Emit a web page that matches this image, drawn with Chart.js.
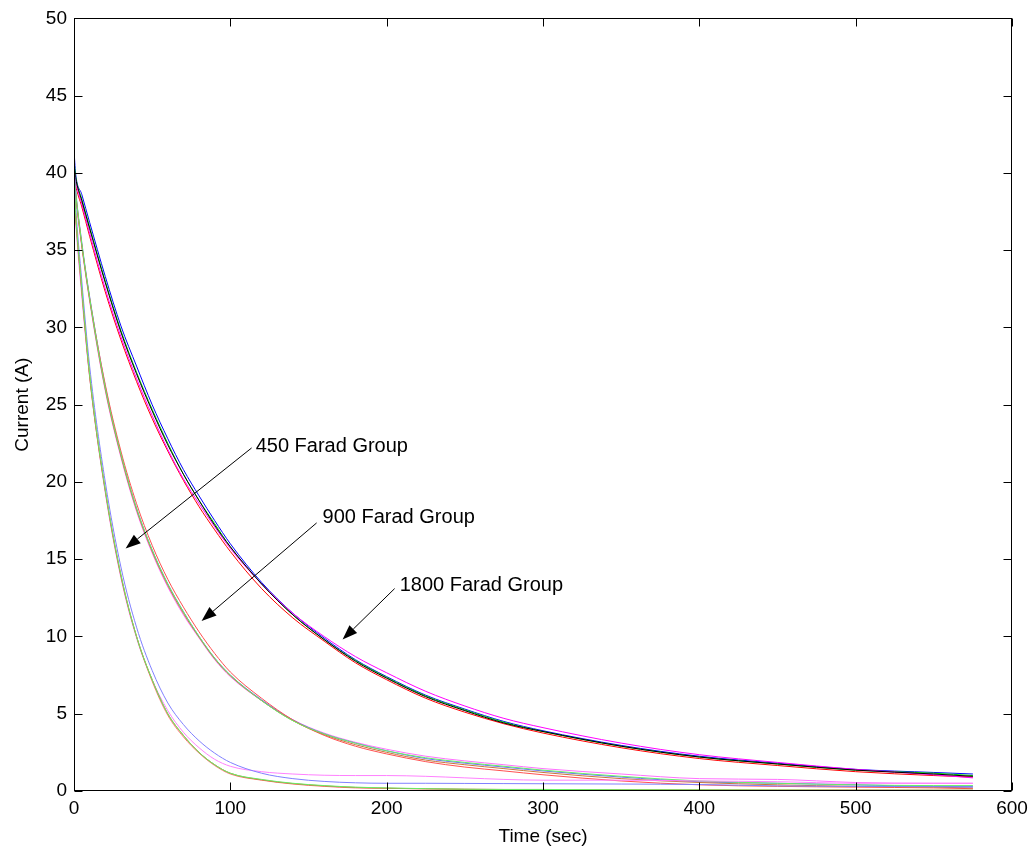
<!DOCTYPE html>
<html>
<head>
<meta charset="utf-8">
<script src="https://cdn.jsdelivr.net/npm/chart.js@4/dist/chart.umd.min.js"></script>
<style>
html,body{margin:0;padding:0;background:#fff;}
#wrap{width:1036px;height:854px;position:relative;}
</style>
</head>
<body>
<div id="wrap"><canvas id="c" width="1036" height="854"></canvas></div>
<script>
// ---- data ----
const timeSec = [0,1,5,10,20,30,40,50,60,70,80,90,100,120,140,160,180,200,225,250,275,300,350,400,450,500,550,575];
const xTickValues = [0,100,200,300,400,500,600];
const yTickValues = [0,5,10,15,20,25,30,35,40,45,50];

// 1800 Farad group
const f1800Blue    = [41.5,40.0,38.6,36.8,33.3,30.1,27.5,25.0,22.8,20.8,19.1,17.5,16.0,13.5,11.5,9.9,8.5,7.4,6.2,5.3,4.5,3.9,2.95,2.25,1.8,1.4,1.2,1.1];
const f1800Green   = [40.8,39.8,38.3,36.5,33.0,29.8,27.1,24.7,22.5,20.5,18.8,17.3,15.8,13.4,11.4,9.8,8.45,7.35,6.15,5.25,4.45,3.85,2.9,2.2,1.75,1.35,1.15,1.0];
const f1800Red     = [39.8,39.2,37.8,35.9,32.3,29.2,26.5,24.1,22.0,20.1,18.4,16.9,15.5,13.1,11.2,9.7,8.3,7.2,6.0,5.1,4.35,3.75,2.8,2.1,1.65,1.25,1.0,0.9];
const f1800Magenta = [40.2,39.5,38.0,36.1,32.5,29.4,26.7,24.3,22.1,20.2,18.6,17.1,15.7,13.4,11.5,10.0,8.7,7.65,6.45,5.5,4.7,4.1,3.1,2.35,1.85,1.4,1.05,0.85];
const f1800Black   = [40.5,39.7,38.2,36.4,32.9,29.7,27.0,24.6,22.4,20.5,18.8,17.2,15.8,13.4,11.4,9.8,8.4,7.3,6.1,5.2,4.4,3.85,2.9,2.2,1.75,1.35,1.1,0.95];

// 900 Farad group
const f900Blue    = [40.5,39.0,35.5,32.0,26.2,21.8,18.3,15.6,13.4,11.6,10.0,8.6,7.5,5.9,4.6,3.7,3.1,2.6,2.1,1.8,1.55,1.3,0.9,0.6,0.5,0.4,0.3,0.3];
const f900Green   = [40.0,38.8,35.4,31.9,26.1,21.8,18.3,15.6,13.4,11.6,10.0,8.6,7.5,5.85,4.55,3.7,3.1,2.6,2.15,1.85,1.6,1.35,0.95,0.65,0.5,0.4,0.35,0.35];
const f900Red     = [39.5,38.5,35.3,31.9,26.3,22.0,18.6,15.9,13.7,11.9,10.3,8.9,7.7,6.0,4.6,3.6,2.9,2.4,1.9,1.55,1.3,1.05,0.65,0.4,0.3,0.25,0.2,0.15];
const f900Magenta = [39.8,38.6,35.2,31.7,25.9,21.6,18.1,15.4,13.2,11.4,9.9,8.5,7.4,5.85,4.6,3.75,3.15,2.7,2.25,1.95,1.7,1.45,1.1,0.8,0.75,0.55,0.5,0.5];
const f900Brown   = [39.6,38.7,35.3,31.8,26.0,21.7,18.2,15.5,13.3,11.5,9.95,8.55,7.45,5.85,4.55,3.65,3.0,2.5,2.0,1.7,1.45,1.2,0.8,0.55,0.4,0.3,0.25,0.2];

// 450 Farad group
const f450Green  = [39.5,37.5,32.5,27.0,19.5,14.0,10.0,7.2,5.0,3.6,2.5,1.7,1.15,0.75,0.5,0.35,0.25,0.2,0.15,0.12,0.1,0.1,0.08,0.07,0.06,0.05,0.05,0.05];
const f450Orange = [39.0,37.2,32.3,26.8,19.4,13.9,10.0,7.2,5.0,3.6,2.5,1.7,1.15,0.72,0.48,0.33,0.23,0.18,0.14,0.1,0.09,0.08,0.07,0.06,0.05,0.05,0.04,0.04];
const f450Red    = [39.2,37.4,32.4,26.9,19.5,14.0,10.0,7.1,4.9,3.5,2.45,1.65,1.1,0.7,0.45,0.3,0.2,0.17,0.14,0.12,0.1,0.1,0.08,0.07,0.06,0.06,0.05,0.05];
const f450Blue   = [40.0,38.0,33.0,27.5,20.0,14.5,10.6,7.8,5.7,4.3,3.25,2.45,1.85,1.15,0.8,0.62,0.53,0.5,0.5,0.49,0.48,0.47,0.45,0.42,0.33,0.3,0.28,0.25];
const f450Pink   = [39.0,37.0,32.0,26.8,19.3,13.8,9.9,7.2,5.2,3.8,2.8,2.05,1.6,1.25,1.1,1.02,1.0,1.0,0.95,0.85,0.75,0.7,0.7,0.65,0.6,0.5,0.5,0.5];

// annotation labels (data coordinates: text anchor, arrow tail, arrow tip)
const annotationLabels = ["450 Farad Group","900 Farad Group","1800 Farad Group"];
const annotationText  = [[116.2,22.3],[159.0,17.7],[208.3,13.3]];
const annotationTail  = [[113.6,22.2],[155.2,17.35],[205.1,13.1]];
const annotationTip   = [[33.0,15.7],[81.6,11.0],[171.8,9.8]];

// ---- build ----
function pts(vals){ return timeSec.map((t,i)=>({x:t,y:vals[i]})); }
const traces = [
  [f450Green,'#66ee66'],[f450Orange,'#c8783a'],[f450Red,'#ff7070'],[f450Blue,'#8080ff'],[f450Pink,'#ff80ff'],
  [f900Green,'#66ee66'],[f900Brown,'#c8783a'],[f900Red,'#ff5050'],[f900Blue,'#6a6aff'],[f900Magenta,'#ff70ff'],
  [f1800Black,'#000000'],[f1800Magenta,'#ff00ff'],[f1800Red,'#ff0000'],[f1800Green,'#00e000'],[f1800Blue,'#0000ff']
];
const datasets = traces.map(([v,c])=>({
  data: pts(v), borderColor:c, backgroundColor:c, borderWidth:1,
  pointRadius:0, showLine:true, fill:false, cubicInterpolationMode:'monotone'
}));

const FONT = "'Liberation Sans', Arial, sans-serif";

const framePlugin = {
  id:'frame',
  afterDatasetsDraw(chart){
    const {ctx, chartArea:a, scales:{x,y}} = chart;
    ctx.save();
    ctx.strokeStyle='#000'; ctx.lineWidth=1;
    const L=Math.round(a.left)+0.5, R=Math.round(a.right)-0.5, T=Math.round(a.top)+0.5, B=Math.round(a.bottom)-0.5;
    ctx.strokeRect(L,T,R-L,B-T);
    ctx.beginPath();
    xTickValues.forEach(v=>{
      const px=Math.round(x.getPixelForValue(v))+0.5;
      ctx.moveTo(px,B); ctx.lineTo(px,B-8);
      ctx.moveTo(px,T); ctx.lineTo(px,T+8);
    });
    yTickValues.forEach(v=>{
      const py=Math.round(y.getPixelForValue(v))+0.5;
      ctx.moveTo(L,py); ctx.lineTo(L+8,py);
      ctx.moveTo(R,py); ctx.lineTo(R-8,py);
    });
    ctx.stroke();
    // annotations
    ctx.fillStyle='#000';
    ctx.font = "20px " + FONT;
    ctx.textAlign='left'; ctx.textBaseline='middle';
    annotationLabels.forEach((lab,i)=>{
      const tx=x.getPixelForValue(annotationText[i][0]), ty=y.getPixelForValue(annotationText[i][1]);
      ctx.fillText(lab, tx, ty);
      const x0=x.getPixelForValue(annotationTail[i][0]), y0=y.getPixelForValue(annotationTail[i][1]);
      const x1=x.getPixelForValue(annotationTip[i][0]), y1=y.getPixelForValue(annotationTip[i][1]);
      const ang=Math.atan2(y1-y0,x1-x0);
      const hl=15, hw=5.5;
      const bx=x1-hl*Math.cos(ang), by=y1-hl*Math.sin(ang);
      ctx.beginPath(); ctx.moveTo(x0,y0); ctx.lineTo(bx,by); ctx.stroke();
      ctx.beginPath();
      ctx.moveTo(x1,y1);
      ctx.lineTo(bx+hw*Math.sin(ang), by-hw*Math.cos(ang));
      ctx.lineTo(bx-hw*Math.sin(ang), by+hw*Math.cos(ang));
      ctx.closePath(); ctx.fill();
    });
    ctx.restore();
  }
};

new Chart(document.getElementById('c'), {
  type:'scatter',
  data:{datasets},
  options:{
    responsive:false, animation:false, devicePixelRatio:1,
    layout:{padding:{left:0,right:24,top:16,bottom:0}},
    plugins:{legend:{display:false}, tooltip:{enabled:false}},
    scales:{
      x:{type:'linear', min:0, max:600,
         afterBuildTicks:(s)=>{ s.ticks = xTickValues.map(v=>({value:v})); },
         afterFit:(s)=>{ s.height = 63; },
         ticks:{color:'#000', font:{family:FONT, size:19}, padding:6, maxRotation:0},
         grid:{display:false, drawTicks:false}, border:{display:false},
         title:{display:true, text:'Time (sec)', color:'#000', font:{family:FONT, size:19}, padding:{top:0,bottom:6}}
      },
      y:{type:'linear', min:0, max:50,
         afterBuildTicks:(s)=>{ s.ticks = yTickValues.map(v=>({value:v})); },
         afterFit:(s)=>{ s.width = 74; },
         ticks:{color:'#000', font:{family:FONT, size:19}, padding:7},
         grid:{display:false, drawTicks:false}, border:{display:false},
         title:{display:true, text:'Current (A)', color:'#000', font:{family:FONT, size:19}, padding:{top:11,bottom:0}}
      }
    }
  },
  plugins:[framePlugin]
});
</script>
</body>
</html>
